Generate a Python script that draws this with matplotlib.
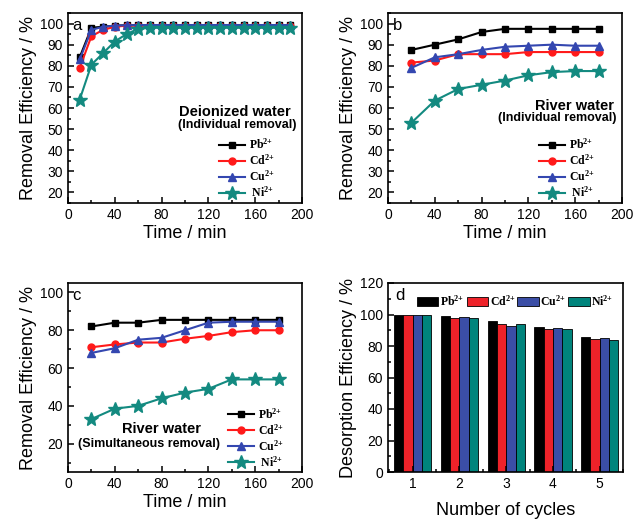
import numpy as np
import matplotlib
matplotlib.use("Agg")
import matplotlib.pyplot as plt
from matplotlib.ticker import AutoMinorLocator

plt.rcParams['font.family'] = ['Liberation Sans', 'DejaVu Sans']
plt.rcParams['mathtext.default'] = 'regular'

# panel a: deionized water, individual removal
t_a = [10, 20, 30, 40, 50, 60, 70, 80, 90, 100, 110, 120, 130, 140, 150, 160, 170, 180, 190]
pb_a = [84, 98, 98.5, 99, 99.2, 99.3, 99.3, 99.3, 99.3, 99.3, 99.3, 99.3, 99.3, 99.3, 99.3, 99.3, 99.3, 99.3, 99.3]
cd_a = [79, 94, 97, 98.5, 99, 99, 99, 99, 99, 99, 99, 99, 99, 99, 99, 99, 99, 99, 99]
cu_a = [83, 97, 98.5, 99, 99.2, 99.3, 99.3, 99.3, 99.3, 99.3, 99.3, 99.3, 99.3, 99.3, 99.3, 99.3, 99.3, 99.3, 99.3]
ni_a = [64, 80.5, 86, 91.5, 95, 97.5, 98, 98, 98, 98, 98, 98, 98, 98, 98, 98, 98, 98, 98]

# panel b: river water, individual removal
t_b = [20, 40, 60, 80, 100, 120, 140, 160, 180]
pb_b = [87.5, 90, 92.5, 96, 97.5, 97.5, 97.5, 97.5, 97.5]
cd_b = [81.5, 82.5, 85.5, 85.5, 85.5, 86.5, 86.5, 86.5, 86.5]
cu_b = [79, 84, 85.5, 87.5, 89, 89.5, 90, 89.5, 89.5]
ni_b = [53, 63.5, 69, 71, 73, 75.5, 77, 77.5, 77.5]

# panel c: river water, simultaneous removal
t_c = [20, 40, 60, 80, 100, 120, 140, 160, 180]
pb_c = [82, 84, 84, 85.5, 85.5, 85.5, 85.5, 85.5, 85.5]
cd_c = [71, 72.5, 73.5, 73.5, 75.5, 77, 79, 80, 80]
cu_c = [68, 70.5, 75, 76, 80, 84, 84.5, 84.5, 84.5]
ni_c = [33, 38.5, 40, 44, 47, 49, 54, 54, 54]

# panel d: desorption over cycles
cycles = [1, 2, 3, 4, 5]
pb_d = [100, 99, 96, 92, 86]
cd_d = [99.5, 98, 94, 90.5, 84.5]
cu_d = [100, 98.5, 93, 91.5, 85]
ni_d = [100, 97.5, 94, 91, 84]

ions = ['Pb$^{2{+}}$', 'Cd$^{2{+}}$', 'Cu$^{2{+}}$', ' Ni$^{2{+}}$']
colors = ['black', '#ff1a1a', '#3447b0', '#138a80']
bar_colors = ['black', '#ee2229', '#3b4ea6', '#00847c']
markers = ['s', 'o', '^', '*']
msizes = [5, 5, 6, 10]

fig = plt.figure(figsize=(6.41, 5.19), dpi=100)
W, H = 641.0, 519.0


def add_ax(l, t, r, b):
    return fig.add_axes([l / W, 1 - b / H, (r - l) / W, (b - t) / H])


def style(ax):
    for s in ax.spines.values():
        s.set_linewidth(1.2)
    ax.tick_params(which='both', direction='in', top=False, right=False,
                   labelsize=10, width=1.1)
    ax.tick_params(which='major', length=4)
    ax.tick_params(which='minor', length=2)
    ax.xaxis.set_minor_locator(AutoMinorLocator(2))
    ax.yaxis.set_minor_locator(AutoMinorLocator(2))


def line_panel(ax, t, series, letter, ylim, yticks):
    for y, c, m, ms, lab in zip(series, colors, markers, msizes, ions):
        ax.plot(t, y, color=c, marker=m, ms=ms, lw=1.5, label=lab)
    ax.set_xlim(0, 200)
    ax.set_ylim(*ylim)
    ax.set_xticks([0, 40, 80, 120, 160, 200])
    ax.set_yticks(yticks)
    style(ax)
    ax.set_xlabel('Time / min', fontsize=13, labelpad=2)
    ax.set_ylabel('Removal Efficiency / %', fontsize=13, labelpad=2)
    ax.text(0.02, 0.975, letter, transform=ax.transAxes, fontsize=12,
            va='top', ha='left')


leg_prop = {'family': 'Liberation Serif', 'weight': 'bold', 'size': 8.5}
leg_kw = dict(loc='upper left', frameon=False, prop=leg_prop, handlelength=2.2,
              labelspacing=0.12, borderpad=0.2, handletextpad=0.35)

# a
ax1 = add_ax(68, 13, 302, 203)
line_panel(ax1, t_a, [pb_a, cd_a, cu_a, ni_a], 'a', (15, 105), np.arange(20, 101, 10))
ax1.text(190, 58, 'Deionized water', fontsize=10.5, fontweight='bold', ha='right', va='center')
ax1.text(195, 52, '(Individual removal)', fontsize=9, fontweight='bold', ha='right', va='center')
ax1.legend(bbox_to_anchor=(0.61, 0.39), **leg_kw)

# b
ax2 = add_ax(388, 13, 622, 203)
line_panel(ax2, t_b, [pb_b, cd_b, cu_b, ni_b], 'b', (15, 105), np.arange(20, 101, 10))
ax2.text(193, 61, 'River water', fontsize=10.5, fontweight='bold', ha='right', va='center')
ax2.text(195, 55.5, '(Individual removal)', fontsize=9, fontweight='bold', ha='right', va='center')
ax2.legend(bbox_to_anchor=(0.61, 0.39), **leg_kw)

# c
ax3 = add_ax(68, 283, 302, 472)
line_panel(ax3, t_c, [pb_c, cd_c, cu_c, ni_c], 'c', (5, 105), [20, 40, 60, 80, 100])
ax3.text(79.5, 28, 'River water', fontsize=10.5, fontweight='bold', ha='center', va='center')
ax3.text(69, 20, '(Simultaneous removal)', fontsize=9, fontweight='bold', ha='center', va='center')
ax3.legend(bbox_to_anchor=(0.65, 0.39), **leg_kw)

# d
ax4 = add_ax(388, 283, 623, 472)
x = np.array(cycles)
w = 0.2
for i, (vals, c, lab) in enumerate(zip([pb_d, cd_d, cu_d, ni_d], bar_colors, ions)):
    ax4.bar(x + (i - 1.5) * w, vals, width=w, color=c, edgecolor='black', lw=0.6,
            label=lab.strip())
ax4.set_xlim(0.47, 5.5)
ax4.set_ylim(0, 120)
ax4.set_xticks(cycles)
ax4.set_yticks(np.arange(0, 121, 20))
style(ax4)
ax4.set_xlabel('Number of cycles', fontsize=13, labelpad=8)
ax4.set_ylabel('Desorption Efficiency / %', fontsize=13, labelpad=2)
ax4.text(0.03, 0.975, 'd', transform=ax4.transAxes, fontsize=12, va='top', ha='left')
ax4.legend(loc='upper right', bbox_to_anchor=(1.0, 0.99), ncol=4, frameon=False, prop=leg_prop,
           handlelength=1.8, handleheight=0.8, handletextpad=0.15, columnspacing=0.2,
           borderpad=0.3)

fig.savefig('out.png', dpi=100)
